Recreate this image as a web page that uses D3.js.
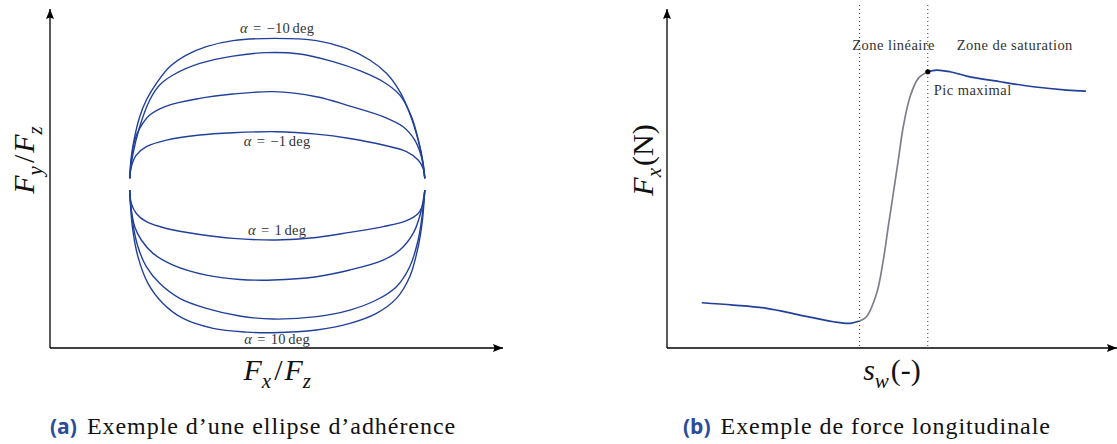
<!DOCTYPE html>
<html>
<head>
<meta charset="utf-8">
<script src="https://cdn.jsdelivr.net/npm/d3@7"></script>
<style>
  body { margin: 0; background: #fff; }
  svg { display: block; }
</style>
</head>
<body>
<div id="chart"></div>
<script>
// ---- (a) friction ellipse, points are [Fx/Fz, Fy/Fz]
var ellAlphaM10 = [[-1, 0.038], [-0.989, 0.182], [-0.966, 0.316], [-0.932, 0.449], [-0.887, 0.56], [-0.819, 0.671], [-0.729, 0.782], [-0.616, 0.86], [-0.48, 0.916], [-0.3, 0.956], [-0.017, 0.971], [0.266, 0.956], [0.469, 0.904], [0.627, 0.827], [0.74, 0.738], [0.831, 0.616], [0.898, 0.471], [0.955, 0.293], [0.984, 0.16], [1, 0.038]];
var ellAlphaM5 = [[-1, 0.038], [-0.977, 0.204], [-0.932, 0.382], [-0.864, 0.56], [-0.797, 0.66], [-0.706, 0.727], [-0.525, 0.804], [-0.3, 0.853], [-0.073, 0.876], [0.153, 0.867], [0.378, 0.816], [0.559, 0.756], [0.718, 0.682], [0.831, 0.593], [0.91, 0.449], [0.962, 0.271], [0.989, 0.138], [1, 0.038]];
var ellAlphaM2 = [[-1, 0.038], [-0.989, 0.16], [-0.966, 0.293], [-0.932, 0.371], [-0.864, 0.46], [-0.751, 0.52], [-0.525, 0.571], [-0.3, 0.6], [-0.028, 0.616], [0.266, 0.582], [0.492, 0.52], [0.718, 0.449], [0.853, 0.382], [0.932, 0.293], [0.977, 0.182], [1, 0.038]];
var ellAlphaM1 = [[-1, 0.038], [-0.989, 0.116], [-0.955, 0.193], [-0.887, 0.249], [-0.751, 0.293], [-0.525, 0.327], [-0.3, 0.342], [-0.006, 0.349], [0.266, 0.333], [0.492, 0.304], [0.718, 0.26], [0.876, 0.216], [0.955, 0.16], [0.989, 0.104], [1, 0.038]];
var ellAlphaP1 = [[-1, -0.04], [-0.989, -0.129], [-0.955, -0.196], [-0.887, -0.251], [-0.751, -0.296], [-0.525, -0.336], [-0.3, -0.362], [-0.006, -0.373], [0.266, -0.356], [0.492, -0.322], [0.718, -0.284], [0.876, -0.244], [0.955, -0.196], [0.989, -0.129], [1, -0.04]];
var ellAlphaP2 = [[-1, -0.04], [-0.989, -0.173], [-0.966, -0.284], [-0.921, -0.373], [-0.842, -0.462], [-0.706, -0.54], [-0.48, -0.607], [-0.254, -0.636], [-0.028, -0.64], [0.266, -0.618], [0.492, -0.573], [0.718, -0.507], [0.831, -0.44], [0.921, -0.329], [0.971, -0.196], [1, -0.04]];
var ellAlphaP5 = [[-1, -0.04], [-0.982, -0.24], [-0.944, -0.418], [-0.887, -0.551], [-0.797, -0.662], [-0.661, -0.762], [-0.48, -0.829], [-0.254, -0.88], [-0.028, -0.9], [0.266, -0.884], [0.492, -0.84], [0.672, -0.773], [0.808, -0.684], [0.898, -0.551], [0.955, -0.373], [0.984, -0.196], [1, -0.04]];
var ellAlphaP10 = [[-1, -0.04], [-0.982, -0.284], [-0.944, -0.484], [-0.876, -0.662], [-0.774, -0.796], [-0.638, -0.896], [-0.435, -0.962], [-0.209, -0.987], [-0.028, -0.991], [0.266, -0.973], [0.492, -0.929], [0.672, -0.862], [0.808, -0.762], [0.898, -0.618], [0.955, -0.418], [0.984, -0.24], [1, -0.04]];

var ellipseCurves = [ellAlphaM10, ellAlphaM5, ellAlphaM2, ellAlphaM1, ellAlphaP1, ellAlphaP2, ellAlphaP5, ellAlphaP10];
var labelAlphas = ["\u221210", "\u22121", "1", "10"];

// ---- (b) longitudinal force vs slip
var slipBrake = [-0.558, -0.4655, -0.3675, -0.27, -0.172, -0.123, -0.095];
var fxBrake = [-3358, -3431, -3536, -3750, -3963, -4014, -3941];
var slipLinear = [-0.095, -0.0748, -0.045, -0.0255, -0.011, 0.0038, 0.0185, 0.033, 0.053, 0.077, 0.105];
var fxLinear = [-3941, -3804, -3058, -1998, -937, 127, 1188, 2249, 3205, 3791, 4001];
var slipSat = [0.105, 0.131, 0.170, 0.219, 0.317, 0.4145, 0.5125, 0.569];
var fxSat = [4001, 4055, 4001, 3864, 3683, 3524, 3418, 3386];
var zoneBounds = [-0.095, 0.105];
var zoneNames = ["Zone lin\u00e9aire", "Zone de saturation"];

var captionA = "Exemple d\u2019une ellipse d\u2019adh\u00e9rence";
var captionB = "Exemple de force longitudinale";

var blue = "#21409a";
var grey = "#7c7f8c";
var serif = "'Liberation Serif', 'DejaVu Serif', serif";

var svg = d3.select("#chart").append("svg")
    .attr("width", 1117)
    .attr("height", 444);

// arrow head for the axes
svg.append("defs").append("marker")
    .attr("id", "arr")
    .attr("viewBox", "0 0 10 8")
    .attr("refX", 10).attr("refY", 4)
    .attr("markerWidth", 10).attr("markerHeight", 8)
    .attr("markerUnits", "userSpaceOnUse")
    .attr("orient", "auto")
    .append("path")
    .attr("d", "M0,0L10,4L0,8L1.5,4Z")
    .attr("fill", "#000");

function drawAxes(x, y) {
    var x0 = x.range()[0], y0 = y.range()[0];
    svg.append("line")
        .attr("x1", x0).attr("y1", y0)
        .attr("x2", x.range()[1]).attr("y2", y0)
        .attr("stroke", "#000").attr("stroke-width", 1.3)
        .attr("marker-end", "url(#arr)");
    svg.append("line")
        .attr("x1", x0).attr("y1", y0)
        .attr("x2", x0).attr("y2", y.range()[1])
        .attr("stroke", "#000").attr("stroke-width", 1.3)
        .attr("marker-end", "url(#arr)");
}

// math-ish label built from italic / subscript pieces
function mathLabel(sel, parts, size) {
    var t = sel.append("text")
        .attr("font-family", serif)
        .attr("font-size", size)
        .attr("text-anchor", "middle")
        .attr("fill", "#111");
    var shift = 0;
    parts.forEach(function (p) {
        var dy = (p.sub ? size * 0.25 : 0) - shift;
        shift += dy;
        t.append("tspan")
            .attr("dy", dy)
            .attr("dx", p.gap || 0)
            .attr("font-style", p.it ? "italic" : "normal")
            .attr("font-size", p.sub ? size * 0.7 : size)
            .text(p.t);
    });
    return t;
}

function smallText(x, y, anchor, txt) {
    return svg.append("text")
        .attr("x", x).attr("y", y)
        .attr("text-anchor", anchor)
        .attr("font-family", serif)
        .attr("font-size", 14.5)
        .attr("letter-spacing", 0.45)
        .attr("fill", "#333")
        .text(txt);
}

// ================= panel (a)
var xL = d3.scaleLinear().domain([-1.54, 1.53]).range([50, 503]);
var yL = d3.scaleLinear().domain([-1.093, 1.167]).range([348, 9]);

var lineL = d3.line()
    .x(function (d) { return xL(d[0]); })
    .y(function (d) { return yL(d[1]); })
    .curve(d3.curveCatmullRom.alpha(0.5));

svg.append("g").selectAll("path")
    .data(ellipseCurves)
    .enter().append("path")
    .attr("d", lineL)
    .attr("fill", "none")
    .attr("stroke", blue)
    .attr("stroke-width", 1.4);

drawAxes(xL, yL);

// alpha labels next to the outer / inner curves
var labelCurves = [ellAlphaM10, ellAlphaM1, ellAlphaP1, ellAlphaP10];
var labelOffsets = [-5, 14, -5, 11];
labelCurves.forEach(function (c, i) {
    var mid = d3.least(c, function (d) { return Math.abs(d[0]); });
    var t = smallText(xL(0), yL(mid[1]) + labelOffsets[i], "middle", null)
        .attr("letter-spacing", 0.3);
    t.append("tspan").attr("font-style", "italic").text("\u03b1");
    t.append("tspan").attr("dx", 5).text("=");
    t.append("tspan").attr("dx", 5).text(labelAlphas[i]);
    t.append("tspan").attr("dx", 2.5).text("deg");
});

mathLabel(svg.append("g").attr("transform", "translate(" + xL(0) + ",380)"),
    [{t: "F", it: true}, {t: "x", it: true, sub: true}, {t: "/", it: false, gap: 3}, {t: "F", it: true, gap: 2}, {t: "z", it: true, sub: true}], 30);
mathLabel(svg.append("g").attr("transform", "translate(34,160) rotate(-90)"),
    [{t: "F", it: true}, {t: "y", it: true, sub: true}, {t: "/", it: false, gap: 3}, {t: "F", it: true, gap: 2}, {t: "z", it: true, sub: true}], 30);

// ================= panel (b)
var xR = d3.scaleLinear().domain([-0.66, 0.66]).range([667, 1117]);
var yR = d3.scaleLinear().domain([-4800, 6000]).range([348, 9]);

var lineR = d3.line()
    .x(function (d) { return xR(d[0]); })
    .y(function (d) { return yR(d[1]); })
    .curve(d3.curveCatmullRom.alpha(0.5));

// zone limits
svg.append("g").selectAll("line")
    .data(zoneBounds)
    .enter().append("line")
    .attr("x1", function (d) { return xR(d); })
    .attr("x2", function (d) { return xR(d); })
    .attr("y1", 5).attr("y2", yR.range()[0])
    .attr("stroke", "#333")
    .attr("stroke-width", 1)
    .attr("stroke-dasharray", "1,3");

var segs = [
    {s: slipBrake, f: fxBrake, c: blue},
    {s: slipLinear, f: fxLinear, c: grey},
    {s: slipSat, f: fxSat, c: blue}
];
svg.append("g").selectAll("path")
    .data(segs)
    .enter().append("path")
    .attr("d", function (d) { return lineR(d3.zip(d.s, d.f)); })
    .attr("fill", "none")
    .attr("stroke", function (d) { return d.c; })
    .attr("stroke-width", 1.7);

drawAxes(xR, yR);

// peak point
svg.append("circle")
    .attr("cx", xR(slipLinear[slipLinear.length - 1]))
    .attr("cy", yR(fxLinear[fxLinear.length - 1]))
    .attr("r", 2.6)
    .attr("fill", "#000");

smallText(xR(zoneBounds[0]) + 34, 50, "middle", zoneNames[0]);
smallText(xR(zoneBounds[1]) + 87, 50, "middle", zoneNames[1]);
smallText(xR(zoneBounds[1]) + 6, 95, "start", "Pic maximal");

mathLabel(svg.append("g").attr("transform", "translate(" + xR(0) + ",380)"),
    [{t: "s", it: true}, {t: "w", it: true, sub: true}, {t: "(-)", it: false, gap: 2}], 30);
mathLabel(svg.append("g").attr("transform", "translate(653,160) rotate(-90)"),
    [{t: "F", it: true}, {t: "x", it: true, sub: true}, {t: "(N)", it: false, gap: 2}], 30);

// ================= captions
function caption(x, tag, txt) {
    var t = svg.append("text")
        .attr("x", x).attr("y", 434)
        .attr("font-size", 24);
    t.append("tspan")
        .attr("font-family", "'Open Sans', sans-serif")
        .attr("font-weight", "bold")
        .attr("font-size", 21)
        .attr("fill", "#2b4c9c")
        .text(tag);
    t.append("tspan")
        .attr("font-family", serif)
        .attr("letter-spacing", 0.95)
        .attr("dx", 10)
        .attr("fill", "#111")
        .text(txt);
}
caption(50, "(a)", captionA);
caption(683, "(b)", captionB);
</script>
</body>
</html>
